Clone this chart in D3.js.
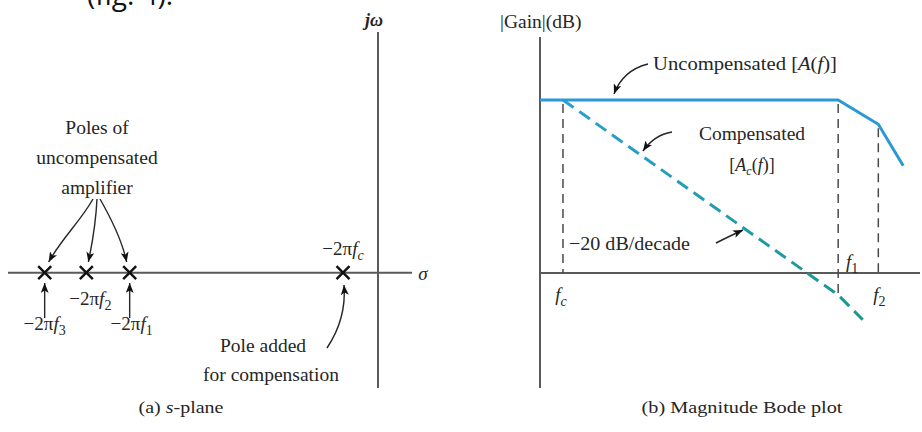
<!DOCTYPE html>
<html><head><meta charset="utf-8">
<script src="https://cdn.jsdelivr.net/npm/d3@7"></script>
<style>
body{margin:0;background:#fff}
svg text{font-family:"Liberation Serif",serif;fill:#262626}
</style>
</head><body>
<svg id="c" width="922" height="432"></svg>
<script>
// ---- s-plane: pole locations on the σ axis (normalised units) ----
const poleNames = ["3", "2", "1", "c"];
const poleSigma = [-10, -8.75, -7.45, -1.05];

// ---- Bode plot: frequency (Hz) and gain (dB) break points ----
const uncompFreq = [3.4, 4.1e6, 2.7e7, 8.7e7];
const uncompGain = [100, 100, 86, 62];
const compFreq = [10, 4.1e6, 1.3e7];
const compGain = [100, -12.7, -27];
const markNames = ["c", "1", "2"];
const markFreq = [10, 4.1e6, 2.7e7];
const markTop = [100, 100, 86];
const markBottom = [0, -12.7, 0];

const serif = "'Liberation Serif', serif";
const svg = d3.select("#c");
const ink = "#262626", axisCol = "#5a5a5a";

const defs = svg.append("defs");
defs.append("marker").attr("id", "ah")
  .attr("viewBox", "0 0 10 8").attr("refX", 10).attr("refY", 4)
  .attr("markerWidth", 10).attr("markerHeight", 8)
  .attr("markerUnits", "userSpaceOnUse").attr("orient", "auto")
  .append("path").attr("d", "M0,0 L10,4 L0,8 L2.5,4 Z").attr("fill", "#111");

const grad = defs.append("linearGradient").attr("id", "compGrad")
  .attr("gradientUnits", "userSpaceOnUse")
  .attr("x1", 563).attr("y1", 100).attr("x2", 863).attr("y2", 320);
grad.append("stop").attr("offset", "0%").attr("stop-color", "#2c9fd6");
grad.append("stop").attr("offset", "100%").attr("stop-color", "#17998c");

// serif text helper
function txt(g, x, y, size, anchor) {
  return g.append("text").attr("x", x).attr("y", y)
    .attr("text-anchor", anchor || "start")
    .attr("font-family", serif).attr("font-size", size);
}

// partial caption line at the very top
svg.append("text").attr("x", 87).attr("y", 5)
  .attr("font-size", 28).style("fill", "#111")
  .style("font-family", "'Open Sans','Noto Sans',sans-serif")
  .text("(fig. 4).");

// ================= (a) s-plane =================
const xs = d3.scaleLinear().domain([-11.1, 1.02]).range([8, 412]);
const ys = d3.scaleLinear().domain([-3.42, 7.14]).range([388, 32]);
const gS = svg.append("g");

gS.append("line").attr("x1", xs(-11.1)).attr("x2", xs(1.02))
  .attr("y1", ys(0)).attr("y2", ys(0)).attr("stroke", axisCol).attr("stroke-width", 2);
gS.append("line").attr("x1", xs(0)).attr("x2", xs(0))
  .attr("y1", ys(7.14)).attr("y2", ys(-3.42)).attr("stroke", axisCol).attr("stroke-width", 2);

// axis names
txt(gS, xs(0) - 4, 26, 18, "middle").style("font-style", "italic").style("font-weight", "bold").text("jω");
txt(gS, 423, 280, 19, "middle").style("font-style", "italic").text("σ");

// pole crosses
const cr = 6.5;
poleSigma.forEach(s => {
  const cx = xs(s), cy = ys(0);
  gS.append("path").attr("d", `M${cx - cr},${cy - cr}L${cx + cr},${cy + cr}M${cx + cr},${cy - cr}L${cx - cr},${cy + cr}`)
    .attr("stroke", "#111").attr("stroke-width", 2.4).attr("fill", "none");
});

// pole labels −2πf_n
const poleLabelPos = [[0, 0, 330], [1, 4, 305], [2, 2, 330], [3, 0, 255]];
poleLabelPos.forEach(([i, dx, y]) => {
  const t = txt(gS, xs(poleSigma[i]) + dx, y, 19, "middle");
  t.append("tspan").text("−2π");
  t.append("tspan").style("font-style", "italic").text("f");
  t.append("tspan").attr("dy", 5).attr("font-size", 14)
    .style("font-style", poleNames[i] === "c" ? "italic" : "normal").text(poleNames[i]);
});

// upward arrows to f3 and f1
[0, 2].forEach(i => {
  gS.append("line").attr("x1", xs(poleSigma[i])).attr("x2", xs(poleSigma[i]))
    .attr("y1", 318).attr("y2", 283).attr("stroke", ink).attr("stroke-width", 1.4)
    .attr("marker-end", "url(#ah)");
});

// "Poles of uncompensated amplifier"
["Poles of", "uncompensated", "amplifier"].forEach((s, k) => {
  txt(gS, 97, 134 + k * 30, 19.5, "middle").text(s);
});
const fan = [
  `M93,199 C80,222 62,238 ${xs(poleSigma[0]) + 4},262`,
  `M97,199 C96,220 93,240 ${xs(poleSigma[1]) + 2},262`,
  `M100,199 C112,220 122,240 ${xs(poleSigma[2]) - 3},262`
];
fan.forEach(d => gS.append("path").attr("d", d).attr("fill", "none")
  .attr("stroke", ink).attr("stroke-width", 1.4).attr("marker-end", "url(#ah)"));

// "Pole added for compensation"
txt(gS, 263, 352, 19.5, "middle").text("Pole added");
txt(gS, 271, 381, 19.5, "middle").text("for compensation");
gS.append("path").attr("d", `M327,348 C339,330 346,310 ${xs(poleSigma[3]) + 1},285`)
  .attr("fill", "none").attr("stroke", ink).attr("stroke-width", 1.4).attr("marker-end", "url(#ah)");

// caption (a)
const capA = txt(svg, 181, 413, 17.5, "middle").attr("textLength", 85).attr("lengthAdjust", "spacingAndGlyphs");
capA.append("tspan").text("(a) ");
capA.append("tspan").style("font-style", "italic").text("s");
capA.append("tspan").text("-plane");

// ================= (b) Magnitude Bode plot =================
const xb = d3.scaleLog().domain([3.4, 2.1e8]).range([540, 922]);
const yb = d3.scaleLinear().domain([0, 100]).range([273, 100]);
const gB = svg.append("g");

gB.append("line").attr("x1", 540).attr("x2", 540).attr("y1", 37).attr("y2", 388)
  .attr("stroke", axisCol).attr("stroke-width", 2);
gB.append("line").attr("x1", 540).attr("x2", 920).attr("y1", yb(0)).attr("y2", yb(0))
  .attr("stroke", axisCol).attr("stroke-width", 2);

txt(gB, 500, 28, 19.5).text("|Gain|(dB)");

// dashed frequency guides
markFreq.forEach((f, i) => {
  gB.append("line").attr("x1", xb(f)).attr("x2", xb(f))
    .attr("y1", yb(markTop[i]) + 4).attr("y2", yb(markBottom[i]))
    .attr("stroke", "#4a4a4a").attr("stroke-width", 1.5).attr("stroke-dasharray", "9,6");
});

// guide labels
const guideLab = [[0, -2, 301], [1, 14, 268], [2, 1, 301]];
guideLab.forEach(([i, dx, y]) => {
  const t = txt(gB, xb(markFreq[i]) + dx, y, 19, "middle").style("font-style", "italic");
  t.append("tspan").text("f");
  t.append("tspan").attr("dy", 5).attr("font-size", 14)
    .style("font-style", markNames[i] === "c" ? "italic" : "normal").text(markNames[i]);
});

const lineGen = d3.line().x(d => xb(d[0])).y(d => yb(d[1]));

// compensated response (dashed)
gB.append("path").datum(d3.zip(compFreq, compGain)).attr("d", lineGen)
  .attr("fill", "none").attr("stroke", "url(#compGrad)").attr("stroke-width", 3)
  .attr("stroke-dasharray", "13,7");

// uncompensated response
gB.append("path").datum(d3.zip(uncompFreq, uncompGain)).attr("d", lineGen)
  .attr("fill", "none").attr("stroke", "#2a9ad6").attr("stroke-width", 3);

// annotations
txt(gB, 653, 70, 19).attr("textLength", 184).attr("lengthAdjust", "spacingAndGlyphs").call(t => {
  t.append("tspan").text("Uncompensated [");
  t.append("tspan").style("font-style", "italic").text("A");
  t.append("tspan").text("(");
  t.append("tspan").style("font-style", "italic").text("f");
  t.append("tspan").text(")]");
});
gB.append("path").attr("d", "M648,64 C632,68 620,78 614,94")
  .attr("fill", "none").attr("stroke", ink).attr("stroke-width", 1.4).attr("marker-end", "url(#ah)");

txt(gB, 752, 140, 19.5, "middle").text("Compensated");
txt(gB, 752, 171, 18, "middle").call(t => {
  t.append("tspan").text("[");
  t.append("tspan").style("font-style", "italic").text("A");
  t.append("tspan").attr("dy", 4).attr("font-size", 12).style("font-style", "italic").text("c");
  t.append("tspan").attr("dy", -4).text("(");
  t.append("tspan").style("font-style", "italic").text("f");
  t.append("tspan").text(")]");
});
gB.append("path").attr("d", "M672,132 C660,134 650,141 643,151")
  .attr("fill", "none").attr("stroke", ink).attr("stroke-width", 1.4).attr("marker-end", "url(#ah)");

txt(gB, 569, 250, 19).attr("textLength", 121).attr("lengthAdjust", "spacingAndGlyphs").text("−20 dB/decade");
gB.append("path").attr("d", "M716,243 C726,238 734,234 743,230")
  .attr("fill", "none").attr("stroke", ink).attr("stroke-width", 1.6).attr("marker-end", "url(#ah)");

// caption (b)
txt(svg, 742, 413, 17.5, "middle").attr("textLength", 201).attr("lengthAdjust", "spacingAndGlyphs")
  .text("(b) Magnitude Bode plot");
</script>
</body></html>
